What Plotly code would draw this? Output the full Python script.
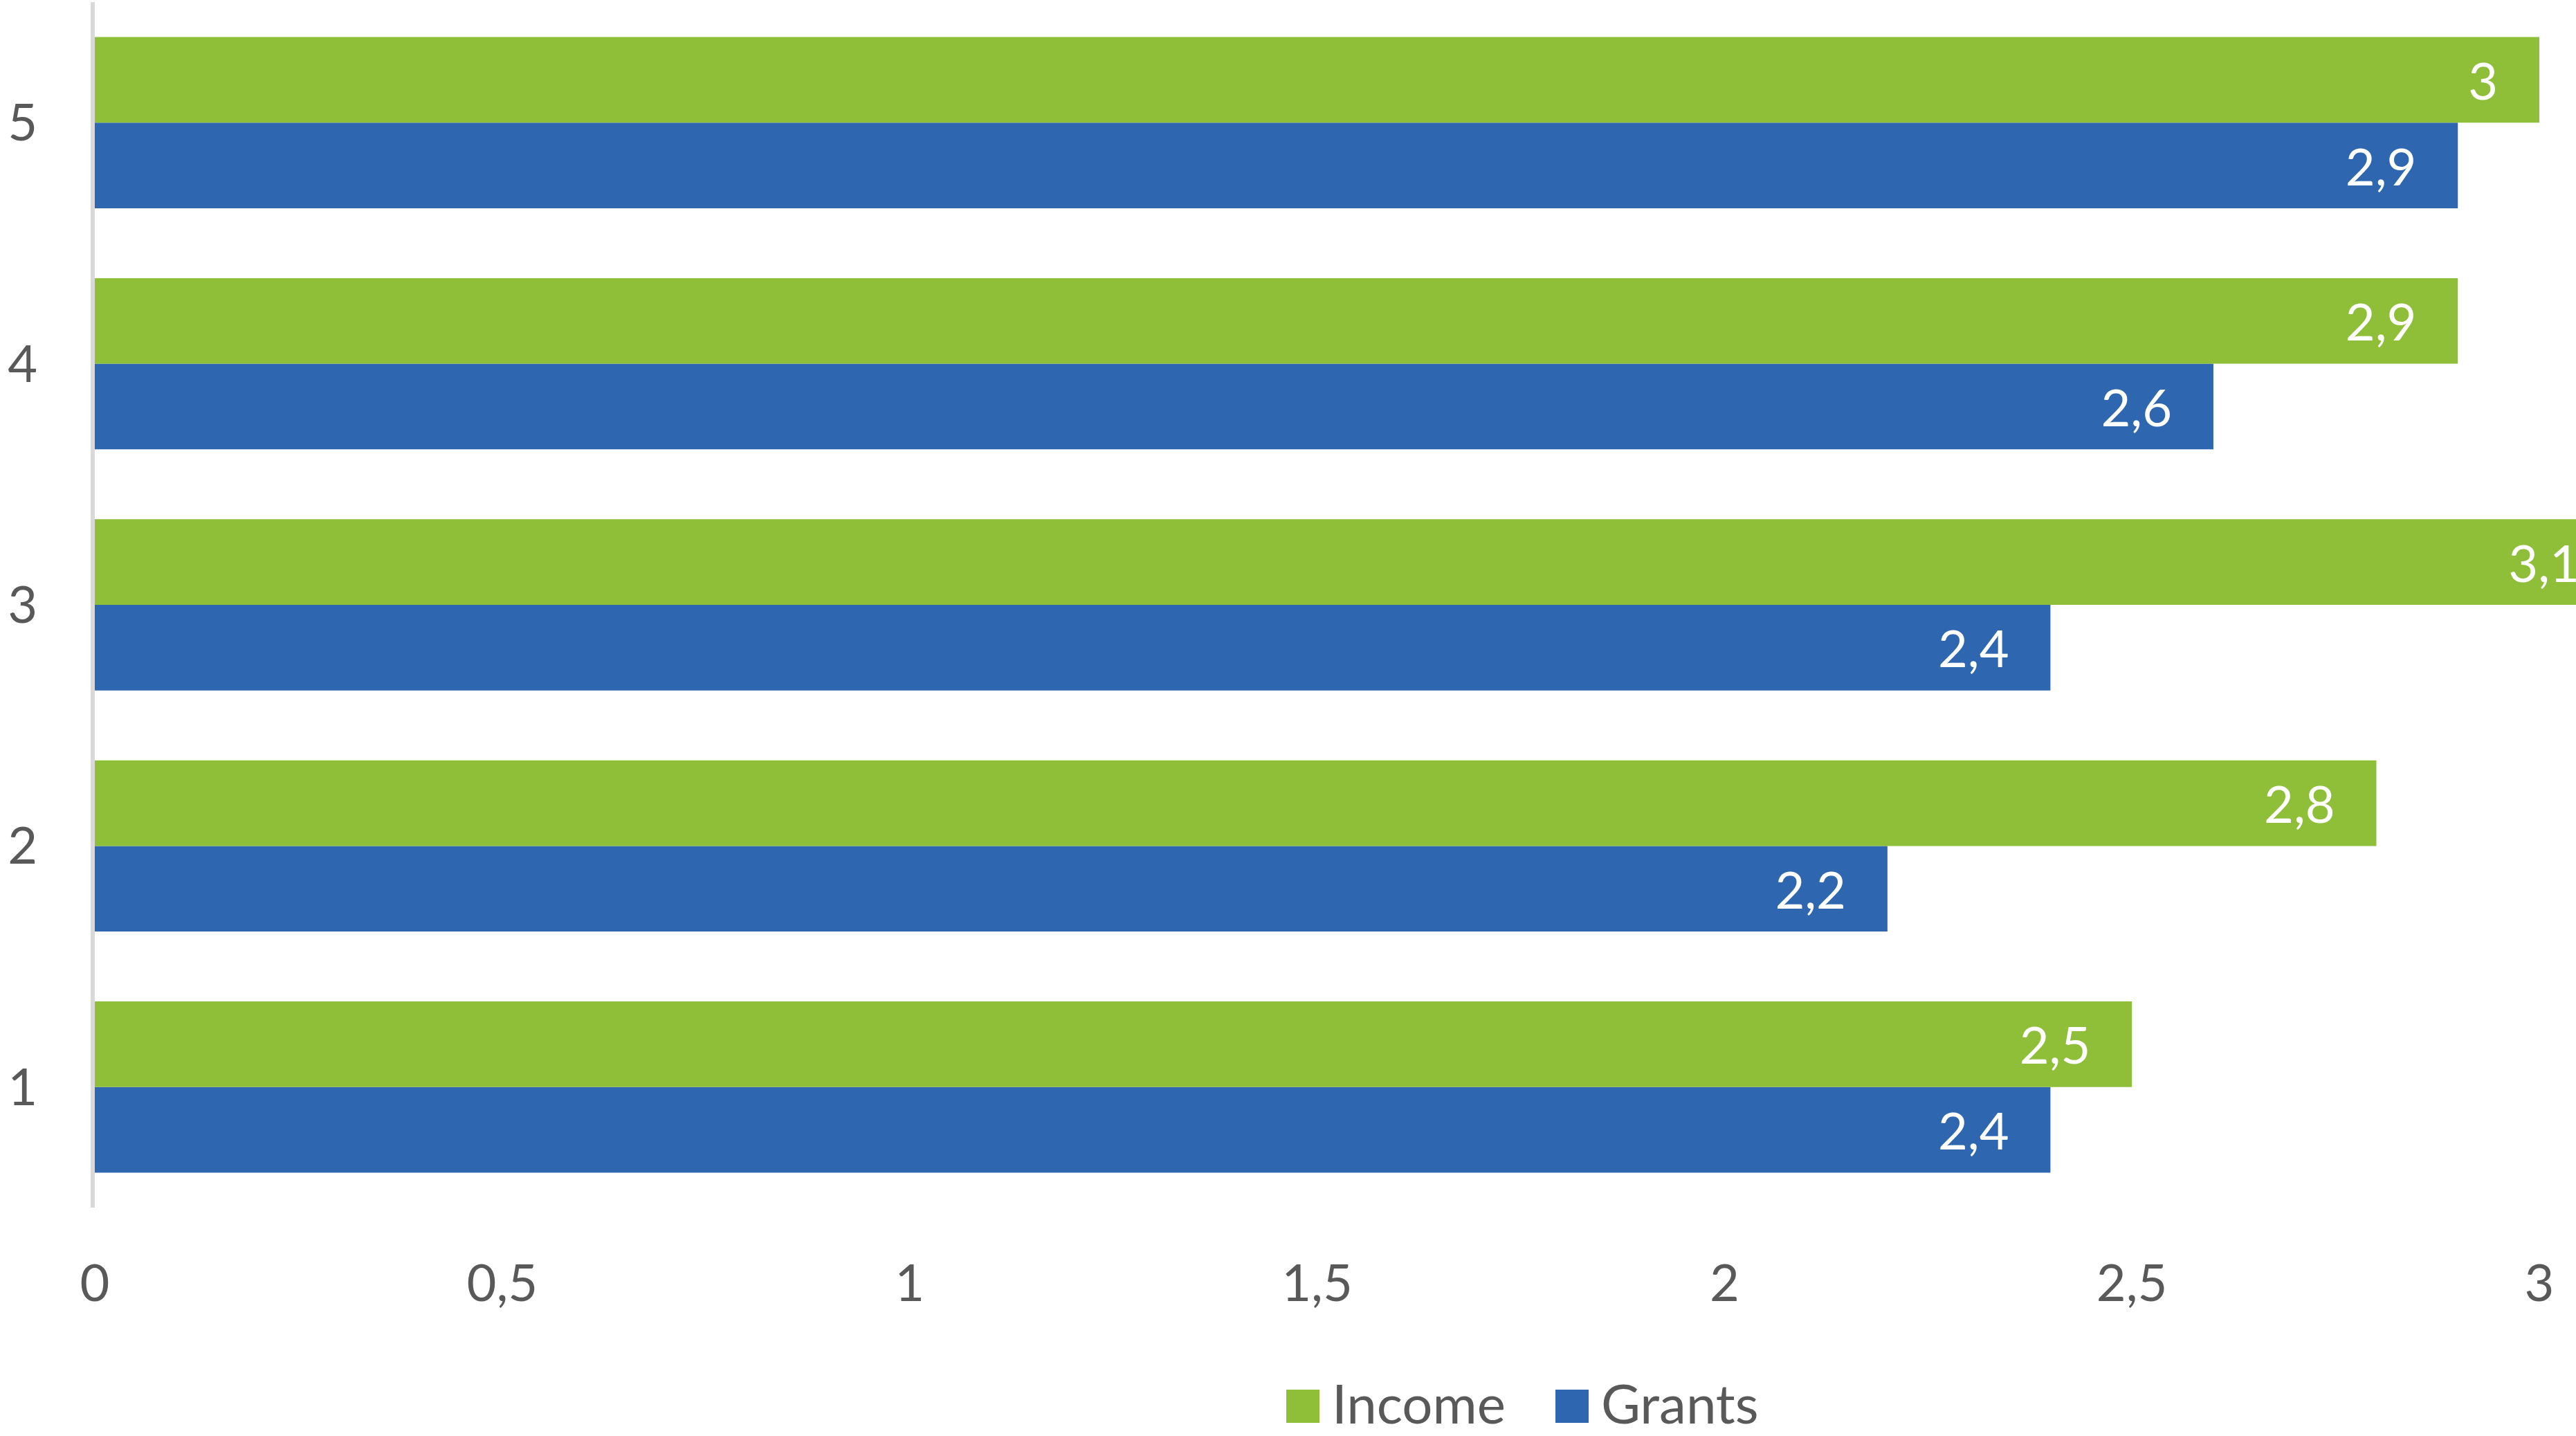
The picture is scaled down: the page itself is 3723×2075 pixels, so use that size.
import plotly.graph_objects as go

categories = [1, 2, 3, 4, 5]
income = [2.5, 2.8, 3.1, 2.9, 3.0]
grants = [2.4, 2.2, 2.4, 2.6, 2.9]
x_ticks = [0, 0.5, 1, 1.5, 2, 2.5, 3]
x_tick_labels = ["0", "0,5", "1", "1,5", "2", "2,5", "3"]
series_names = ["Income", "Grants"]

GREEN = "#8FBE39"
BLUE = "#2E67B0"
GREY = "#595959"
FONT = "Lato, 'Open Sans', sans-serif"

W, H = 3723, 2075
L, R, T, B = 137, 0, 3, 330
X_MAX = (W - L - R) / (3670 - L) * 3  # bars overflow past 3 like the original


def label(v):
    # decimal comma + a bit of room before the bar end
    return f"{v:g}".replace(".", ",") + "\u00a0" * 3


def px_x(p):
    return (p - L) / (W - L - R)


def px_y(p):
    return (H - B - p) / (H - T - B)


fig = go.Figure()
# plotly puts the first trace at the bottom of each group, so Grants goes first
for name, vals, color in [(series_names[1], grants, BLUE), (series_names[0], income, GREEN)]:
    fig.add_trace(go.Bar(
        y=categories, x=vals, name=name, orientation="h",
        marker=dict(color=color, line=dict(width=0)),
        text=[label(v) for v in vals],
        textposition="inside", insidetextanchor="end",
        textangle=0, constraintext="none",
        textfont=dict(family=FONT, size=74, color="white"),
        cliponaxis=True,
        showlegend=False,
    ))

# legend drawn by hand so the swatches can be as large as the original
shapes = []
annotations = []
legend_items = [(series_names[0], GREEN, 1859, 1924), (series_names[1], BLUE, 2248, 2313)]
for name, color, sx, tx in legend_items:
    shapes.append(dict(
        type="rect", xref="paper", yref="paper",
        x0=px_x(sx), x1=px_x(sx + 48), y0=px_y(2056), y1=px_y(2008),
        fillcolor=color, line=dict(width=0),
    ))
    annotations.append(dict(
        text=name, xref="paper", yref="paper", x=px_x(tx), y=px_y(2027),
        xanchor="left", yanchor="middle", showarrow=False, borderpad=0,
        font=dict(family=FONT, size=78, color=GREY),
    ))

fig.update_layout(
    width=W, height=H,
    margin=dict(l=L, r=R, t=T, b=B),
    paper_bgcolor="white", plot_bgcolor="white",
    barmode="group", bargap=0.29, bargroupgap=0,
    showlegend=False,
    shapes=shapes, annotations=annotations,
    font=dict(family=FONT, color=GREY),
)
fig.update_xaxes(
    range=[0, X_MAX], tickvals=x_ticks, ticktext=x_tick_labels,
    showgrid=False, zeroline=False, showline=False, ticks="",
    ticklabelstandoff=60, automargin=False,
    tickfont=dict(family=FONT, size=74, color=GREY),
)
fig.update_yaxes(
    range=[0.5, 5.5], tickvals=categories,
    showgrid=False, zeroline=False,
    showline=True, linecolor="#D9D9D9", linewidth=6,
    ticks="", ticklabelstandoff=62, automargin=False,
    tickfont=dict(family=FONT, size=74, color=GREY),
)

# drop the browser's default body margin so the figure sits at the page corner
fig.write_html(
    "out.html",
    config={"displayModeBar": False},
    post_script="document.body.style.margin = '0';",
)
